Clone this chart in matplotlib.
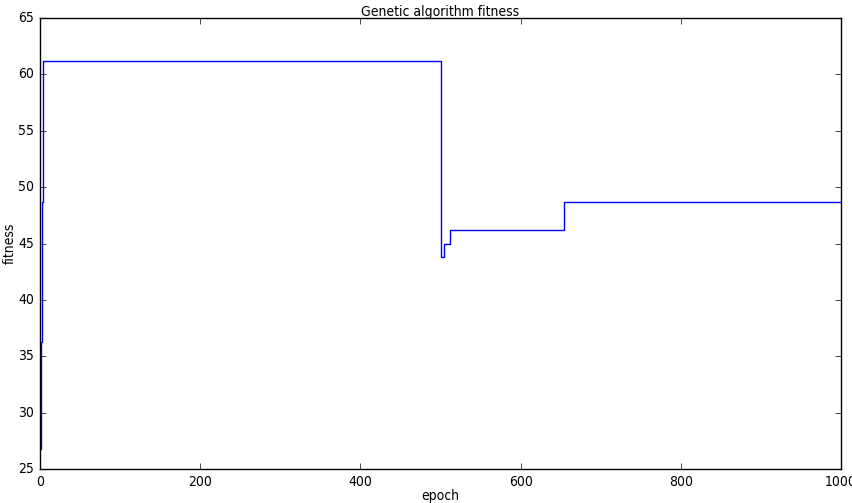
import matplotlib
matplotlib.use("Agg")
import matplotlib.pyplot as plt

# step changes of best fitness (epoch where a new value starts)
epochs = [0, 1, 3, 4, 501, 504, 512, 654, 1000]
fitness = [26.8, 36.3, 48.7, 61.2, 43.8, 45.0, 46.2, 48.7, 48.7]

plt.style.use("classic")
plt.rcParams["font.family"] = ["DejaVu Sans"]
plt.rcParams["font.stretch"] = "condensed"

fig = plt.figure(figsize=(8.53, 5.03), dpi=100, facecolor="white")
ax = fig.add_axes([40 / 853, 34 / 503, 801 / 853, 451 / 503])

ax.plot(epochs, fitness, color="b", linewidth=1, drawstyle="steps-post")
ax.set_xlim(0, 1000)
ax.set_ylim(25, 65)
ax.tick_params(labelsize=10, pad=4)
ax.set_xlabel("epoch", fontsize=10)
ax.set_ylabel("fitness", fontsize=10)
ax.xaxis.set_label_coords(0.5, -0.044)
ax.yaxis.set_label_coords(-0.029, 0.5)
ax.set_title("Genetic algorithm fitness", fontsize=10, pad=1.5)

fig.savefig("out.png", dpi=100, facecolor="white")
